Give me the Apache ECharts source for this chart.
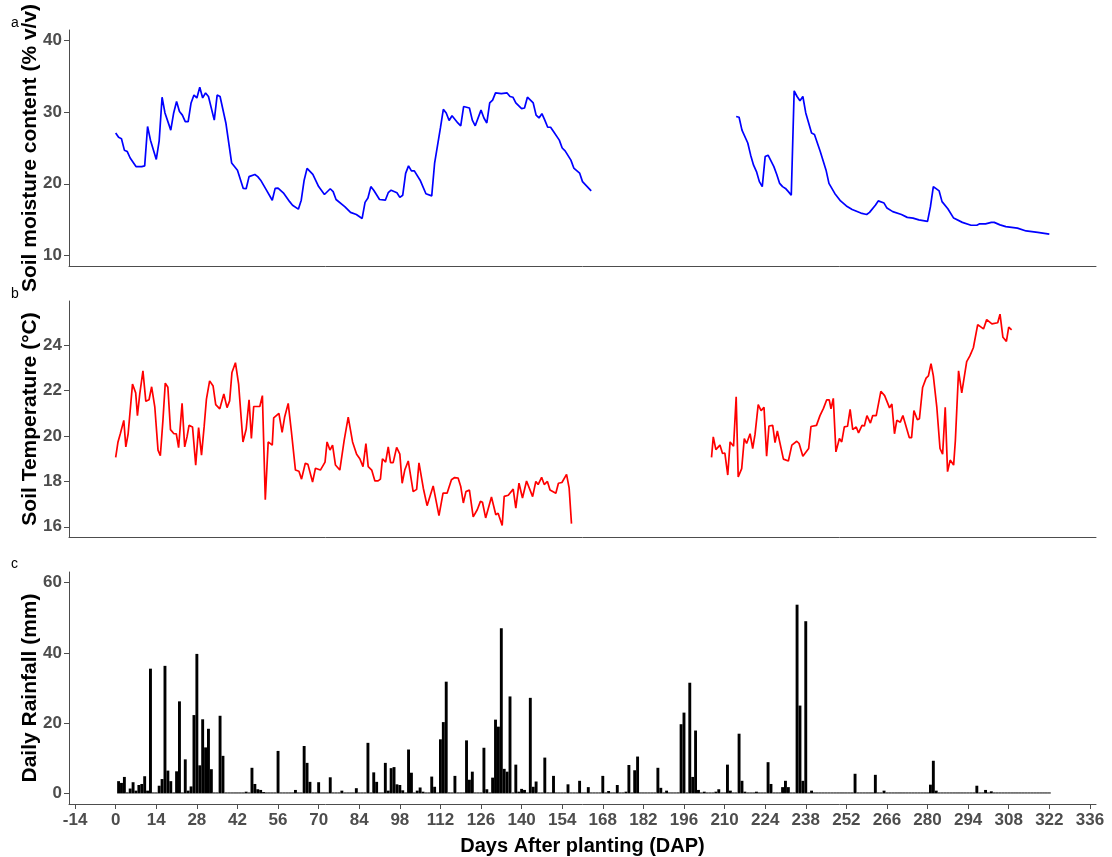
<!DOCTYPE html>
<html>
<head>
<meta charset="utf-8">
<script src="https://cdn.jsdelivr.net/npm/echarts@6/dist/echarts.min.js"></script>
<style>
  html, body { margin: 0; padding: 0; background: #ffffff; }
  #chart { width: 1112px; height: 857px; }
</style>
</head>
<body>
<div id="chart"></div>
<script>
// Day-after-planting tick marks shared by all three panels
const dapTicks = [-14, 0, 14, 28, 42, 56, 70, 84, 98, 112, 126, 140, 154, 168, 182, 196, 210, 224, 238, 252, 266, 280, 294, 308, 322, 336];
const moistureTicks = [10, 20, 30, 40];
const temperatureTicks = [16, 18, 20, 22, 24];
const rainTicks = [0, 20, 40, 60];

// (a) Soil moisture content (% v/v), first season
const moistureEarlyDays = [0, 1, 2, 3, 4, 5, 7, 9, 10, 11, 12, 14, 15, 16, 17, 19, 20, 21, 22, 23, 24, 25, 26, 27, 28, 29, 30, 31, 32, 34, 35, 36, 38, 40, 42, 44, 45, 46, 48, 49, 50, 52, 54, 55, 56, 58, 60, 61, 63, 64, 65, 66, 68, 70, 72, 74, 75, 76, 79, 81, 83, 85, 86, 87, 88, 89, 91, 93, 94, 95, 97, 98, 99, 100, 101, 102, 103, 105, 107, 109, 110, 112, 113, 114, 115, 116, 118, 119, 120, 122, 123, 124, 126, 127, 128, 129, 130, 131, 133, 135, 136, 137, 138, 140, 141, 142, 144, 145, 146, 147, 148, 149, 150, 151, 153, 154, 155, 157, 158, 160, 161, 164];
const moistureEarly = [27.1, 26.5, 26.3, 24.7, 24.5, 23.6, 22.4, 22.4, 22.5, 28.0, 26.1, 23.4, 26.0, 32.1, 29.9, 27.5, 29.9, 31.5, 30.1, 29.6, 28.7, 28.7, 31.3, 32.4, 32.0, 33.5, 32.0, 32.7, 32.2, 28.9, 32.4, 32.2, 28.5, 22.9, 21.9, 19.35, 19.3, 21.0, 21.3, 21.0, 20.5, 19.1, 17.7, 19.35, 19.4, 18.65, 17.5, 17.0, 16.45, 17.7, 20.5, 22.15, 21.3, 19.6, 18.5, 19.3, 18.9, 17.8, 16.8, 16.0, 15.7, 15.15, 17.4, 18.0, 19.6, 19.1, 17.8, 17.7, 18.75, 19.1, 18.75, 18.1, 18.4, 21.45, 22.5, 21.8, 21.8, 20.5, 18.6, 18.3, 22.9, 27.8, 30.4, 29.9, 28.85, 29.5, 28.5, 28.1, 30.8, 30.6, 28.9, 28.1, 30.3, 29.2, 28.5, 31.3, 31.7, 32.7, 32.6, 32.7, 32.2, 32.1, 31.3, 30.5, 30.6, 32.1, 31.3, 29.6, 29.2, 29.8, 28.9, 27.9, 27.9, 27.3, 26.1, 25.0, 24.6, 23.3, 22.2, 21.5, 20.3, 19.0];

// (a) Soil moisture content (% v/v), second season
const moistureLateDays = [214, 215, 216, 218, 219, 220, 221, 222, 223, 224, 225, 227, 228, 229, 230, 231, 232, 233, 234, 235, 236, 237, 238, 240, 241, 243, 245, 246, 248, 250, 252, 254, 257, 259, 260, 262, 263, 265, 266, 268, 271, 273, 275, 277, 280, 281, 282, 284, 285, 287, 289, 292, 295, 297, 298, 300, 302, 303, 305, 307, 311, 314, 318, 322];
const moistureLate = [29.4, 29.3, 27.5, 25.7, 24.0, 22.6, 21.7, 20.3, 19.6, 23.8, 24.0, 22.4, 21.3, 20.05, 19.6, 19.35, 18.9, 18.4, 33.0, 32.2, 31.6, 32.2, 29.9, 27.1, 26.9, 24.5, 21.9, 20.05, 18.65, 17.6, 16.9, 16.4, 15.9, 15.7, 16.0, 17.0, 17.6, 17.3, 16.6, 16.1, 15.7, 15.3, 15.2, 14.95, 14.75, 16.8, 19.6, 19.0, 17.5, 16.5, 15.2, 14.6, 14.2, 14.2, 14.4, 14.4, 14.6, 14.6, 14.25, 14.0, 13.8, 13.4, 13.2, 12.95];

// (b) Soil temperature (°C), first season
const temperatureEarlyDays = [0, 0.8, 1.6, 2.8, 3.5, 4.3, 5.8, 6.9, 7.5, 8.3, 9.4, 10.4, 11.5, 12.4, 13.5, 14.6, 15.4, 16.3, 17.1, 18, 18.9, 20.1, 20.9, 21.7, 22.9, 23.8, 24.6, 25.3, 26.5, 27.6, 28.6, 29.6, 30.5, 31.3, 32.4, 33.6, 34.5, 35.9, 37.3, 38.4, 39.3, 40.1, 41.3, 42.4, 43.9, 45, 46, 46.8, 47.6, 49.7, 50.6, 51.6, 52.6, 54, 54.5, 56.3, 57.4, 58.3, 59.5, 60.6, 62, 63.2, 64.1, 65.4, 66.3, 67.9, 68.9, 70.6, 72.2, 72.9, 73.9, 74.8, 75.8, 77.3, 78.8, 80.2, 81.7, 83.1, 84.2, 85.3, 86.3, 87.1, 88.3, 89.4, 90.5, 91.3, 92, 93.1, 94, 94.8, 95.7, 96.9, 98, 98.8, 99.7, 100.9, 102.6, 103.8, 104.6, 106.1, 107.4, 109.5, 111.5, 112.1, 112.9, 114.3, 115.8, 116.9, 118.1, 119, 119.9, 120.8, 122, 123.3, 124.7, 125.8, 126.5, 127.6, 129.6, 131.1, 131.9, 132.3, 133.3, 134, 135.4, 137.1, 138, 139.1, 140.3, 141.7, 143.8, 144.9, 145.7, 146.9, 147.8, 148.9, 149.8, 151.8, 152.7, 153.9, 155.5, 156.4, 157.2];
const temperatureEarly = [19.06, 19.74, 20.1, 20.69, 19.52, 20.1, 22.29, 21.9, 20.9, 21.85, 22.87, 21.53, 21.6, 22.17, 21.27, 19.38, 19.13, 20.7, 22.33, 22.15, 20.28, 20.1, 20.1, 19.49, 21.44, 19.52, 19.96, 20.47, 20.4, 18.72, 20.37, 19.16, 20.4, 21.63, 22.43, 22.2, 21.38, 21.2, 21.85, 21.25, 21.55, 22.8, 23.23, 22.29, 19.74, 20.3, 21.6, 19.89, 21.3, 21.3, 21.78, 17.19, 19.74, 19.6, 20.8, 21.0, 20.16, 20.85, 21.44, 20.2, 18.5, 18.45, 18.1, 18.8, 18.75, 17.97, 18.58, 18.5, 18.85, 19.74, 19.38, 19.6, 18.72, 18.5, 19.81, 20.83, 19.74, 19.2, 19.0, 18.65, 19.67, 18.65, 18.5, 18.02, 18.02, 18.1, 19.0, 18.85, 19.52, 18.83, 18.83, 19.5, 19.2, 17.92, 18.5, 18.9, 17.55, 17.65, 18.82, 17.7, 16.93, 17.8, 16.49, 16.5, 17.48, 17.48, 18.07, 18.17, 18.15, 17.78, 17.05, 17.55, 17.62, 16.44, 16.75, 17.12, 17.08, 16.39, 17.31, 16.53, 16.6, 16.44, 16.06, 17.34, 17.39, 17.66, 16.82, 17.92, 17.27, 18.02, 17.33, 18.0, 17.86, 18.18, 17.86, 18.0, 17.62, 17.48, 17.92, 17.95, 18.31, 17.7, 16.14];

// (b) Soil temperature (°C), second season
const temperatureLateDays = [205.5, 206.1, 207, 208.4, 209.3, 210.1, 211.1, 211.9, 213.1, 214, 214.7, 215.9, 216.8, 217.6, 218.8, 219.7, 220.5, 221.6, 222.6, 223.6, 224.5, 225.3, 226.6, 227.4, 228.2, 230.3, 232, 233.2, 234.9, 235.7, 237, 239, 239.8, 241.7, 242.9, 244.1, 245.2, 246.1, 246.7, 247.5, 248.4, 249.6, 250.4, 251.3, 252.4, 253.3, 254.2, 255.4, 256.2, 257.4, 258.2, 259.1, 260.3, 261.1, 262.3, 263.9, 265.2, 266.9, 267.7, 268.6, 269.4, 270.6, 271.5, 273.7, 274.5, 275.3, 276.5, 277.2, 278.3, 279.5, 280.3, 281.2, 282, 283.2, 284.3, 285.2, 286.1, 286.9, 287.8, 289, 289.6, 290.7, 291.8, 293.5, 294.6, 295.8, 297.3, 299.3, 300.4, 302.2, 304.2, 305, 306, 307.2, 308, 309];
const temperatureLate = [19.06, 19.96, 19.4, 19.6, 19.23, 19.25, 18.28, 19.74, 19.55, 21.73, 18.2, 18.56, 19.89, 19.67, 20.1, 19.45, 20.07, 21.38, 21.12, 21.27, 19.11, 20.44, 20.47, 19.71, 20.22, 18.98, 18.9, 19.6, 19.77, 19.67, 19.11, 19.45, 20.42, 20.47, 20.9, 21.22, 21.59, 21.59, 21.2, 21.66, 19.3, 19.89, 19.74, 20.4, 20.43, 21.17, 20.28, 20.4, 20.14, 20.47, 20.44, 20.9, 20.57, 20.9, 20.9, 21.97, 21.78, 21.24, 21.41, 20.1, 20.69, 20.61, 20.9, 19.93, 19.93, 21.12, 20.72, 20.76, 22.14, 22.55, 22.65, 23.19, 22.65, 21.27, 19.45, 19.2, 21.27, 18.43, 18.94, 18.72, 19.81, 22.87, 21.9, 23.28, 23.53, 23.89, 24.91, 24.72, 25.13, 24.94, 24.99, 25.37, 24.35, 24.17, 24.8, 24.68];

// (c) Daily rainfall (mm), one value per day from DAP 1 to DAP 322
const rainfall = [
  3.5, 3.0, 4.7, 0.3, 1.4, 3.2, 0.8, 2.4, 2.7, 4.9,
  0.8, 35.5, 0, 0, 2.2, 4.1, 36.3, 6.5, 3.5, 0,
  6.3, 26.2, 0, 9.7, 0.8, 2.0, 22.3, 39.7, 8.0, 21.1,
  13.1, 18.4, 6.9, 0, 0, 22.1, 10.7, 0, 0, 0,
  0, 0, 0, 0, 0.5, 0, 7.3, 2.7, 1.2, 1.0,
  0.4, 0, 0, 0, 0, 12.1, 0, 0, 0, 0,
  0, 1.0, 0, 0, 13.5, 8.7, 3.3, 0, 0, 3.2,
  0, 0, 0, 4.6, 0, 0, 0, 0.8, 0, 0,
  0, 0, 1.5, 0, 0, 0, 14.4, 0, 6.0, 3.3,
  0, 0, 8.7, 0.8, 7.2, 7.5, 2.6, 2.4, 0.9, 0,
  12.5, 5.9, 0, 0.8, 1.7, 0.5, 0, 0, 4.8, 1.9,
  0, 15.4, 20.3, 31.8, 0.3, 0, 5.0, 0, 0, 0,
  15.1, 3.9, 6.2, 0, 0, 0, 13.0, 1.2, 0, 4.5,
  21.0, 19.0, 47.0, 7.0, 6.2, 27.6, 0, 8.2, 0.5, 1.3,
  1.0, 0, 27.2, 1.9, 3.4, 0, 0, 10.2, 0.3, 0,
  5.0, 0, 0, 0, 0, 2.6, 0, 0, 0, 3.6,
  0, 0, 1.8, 0, 0, 0, 0, 5.0, 0, 0.7,
  0, 0, 2.4, 0, 0, 0.5, 8.1, 0, 6.6, 10.5,
  0, 0, 0, 0, 0, 0, 7.3, 1.6, 0, 0.8,
  0, 0, 0, 0.3, 19.7, 23.0, 0, 31.5, 4.7, 17.9,
  1.0, 0, 0.5, 0, 0, 0, 0.5, 1.2, 0, 0,
  8.2, 0.8, 0, 0, 17.0, 3.6, 0.5, 0, 0, 0,
  0.5, 0, 0, 0, 8.9, 2.7, 0, 0, 0, 1.8,
  3.6, 1.8, 0, 0, 53.7, 25.0, 3.6, 49.0, 0, 0.8,
  0, 0, 0, 0, 0, 0, 0, 0, 0, 0,
  0, 0, 0, 0, 5.6, 0, 0, 0, 0, 0,
  0, 5.3, 0, 0, 0.8, 0, 0, 0, 0, 0,
  0, 0, 0, 0, 0, 0, 0, 0, 0, 0,
  2.5, 9.3, 0.8, 0, 0, 0, 0, 0, 0, 0,
  0, 0, 0, 0, 0, 0, 2.2, 0, 0, 1.0,
  0, 0.6, 0, 0, 0, 0, 0, 0, 0, 0,
  0, 0, 0, 0, 0, 0, 0, 0, 0, 0,
  0, 0
];

const FONT = '"Liberation Sans", Arial, sans-serif';
const AXIS_COLOR = '#4d4d4d';
const LABEL_COLOR = '#4d4d4d';

const pairs = (xs, ys) => xs.map((x, i) => [x, ys[i]]);

function dayAxis(gridIndex, withLabels) {
  return {
    type: 'value',
    gridIndex: gridIndex,
    min: -16.1,
    max: 338.1,
    name: withLabels ? 'Days After planting (DAP)' : '',
    nameLocation: 'middle',
    nameGap: 32,
    nameMoveOverlap: false,
    nameTextStyle: { fontFamily: FONT, fontSize: 20, fontWeight: 'bold', color: '#000' },
    axisLine: { show: true, onZero: false, lineStyle: { color: AXIS_COLOR, width: 1 } },
    axisTick: { show: withLabels, customValues: dapTicks, length: 5, lineStyle: { color: AXIS_COLOR } },
    axisLabel: {
      show: withLabels, customValues: dapTicks, margin: 8,
      fontFamily: FONT, fontSize: 17, fontWeight: 'bold', color: LABEL_COLOR
    },
    splitLine: { show: false }
  };
}

function valueAxis(gridIndex, title, lo, hi, ticks) {
  return {
    type: 'value',
    gridIndex: gridIndex,
    min: lo,
    max: hi,
    name: title,
    nameLocation: 'middle',
    nameRotate: 90,
    nameGap: 28,
    nameMoveOverlap: false,
    nameTextStyle: { fontFamily: FONT, fontSize: 21, fontWeight: 'bold', color: '#000' },
    axisLine: { show: true, onZero: false, lineStyle: { color: AXIS_COLOR, width: 1 } },
    axisTick: { show: true, customValues: ticks, length: 5, lineStyle: { color: AXIS_COLOR } },
    axisLabel: {
      customValues: ticks, margin: 7,
      fontFamily: FONT, fontSize: 17, fontWeight: 'bold', color: LABEL_COLOR
    },
    splitLine: { show: false }
  };
}

const lineSeries = (axis, data, color) => ({
  type: 'line',
  xAxisIndex: axis,
  yAxisIndex: axis,
  data: data,
  showSymbol: false,
  symbol: 'none',
  lineStyle: { color: color, width: 1.7 },
  silent: true
});

const chart = echarts.init(document.getElementById('chart'), null, { renderer: 'canvas' });

chart.setOption({
  animation: false,
  backgroundColor: '#ffffff',
  textStyle: { fontFamily: FONT },
  grid: [
    { left: 69, right: 16, top: 30, height: 236 },
    { left: 69, right: 16, top: 301, height: 236 },
    { left: 69, right: 16, top: 572, height: 236 }
  ],
  xAxis: [dayAxis(0, false), dayAxis(1, false), dayAxis(2, true)],
  yAxis: [
    valueAxis(0, 'Soil moisture content (% v/v)', 8.5, 41.5, moistureTicks),
    valueAxis(1, 'Soil Temperature (°C)', 15.55, 25.95, temperatureTicks),
    valueAxis(2, 'Daily Rainfall (mm)', -3, 63, rainTicks)
  ],
  graphic: [
    { type: 'text', left: 11, top: 16, style: { text: 'a', fontFamily: FONT, fontSize: 14, fill: '#000' } },
    { type: 'text', left: 11, top: 287, style: { text: 'b', fontFamily: FONT, fontSize: 14, fill: '#000' } },
    { type: 'text', left: 11, top: 557, style: { text: 'c', fontFamily: FONT, fontSize: 14, fill: '#000' } }
  ],
  series: [
    lineSeries(0, pairs(moistureEarlyDays, moistureEarly), '#0000ff'),
    lineSeries(0, pairs(moistureLateDays, moistureLate), '#0000ff'),
    lineSeries(1, pairs(temperatureEarlyDays, temperatureEarly), '#ff0000'),
    lineSeries(1, pairs(temperatureLateDays, temperatureLate), '#ff0000'),
    {
      type: 'bar',
      xAxisIndex: 2,
      yAxisIndex: 2,
      data: rainfall.map((mm, i) => [i + 1, mm]),
      barWidth: 2.9,
      barMinHeight: 1,
      itemStyle: { color: '#000000' },
      silent: true
    }
  ]
});
</script>
</body>
</html>
